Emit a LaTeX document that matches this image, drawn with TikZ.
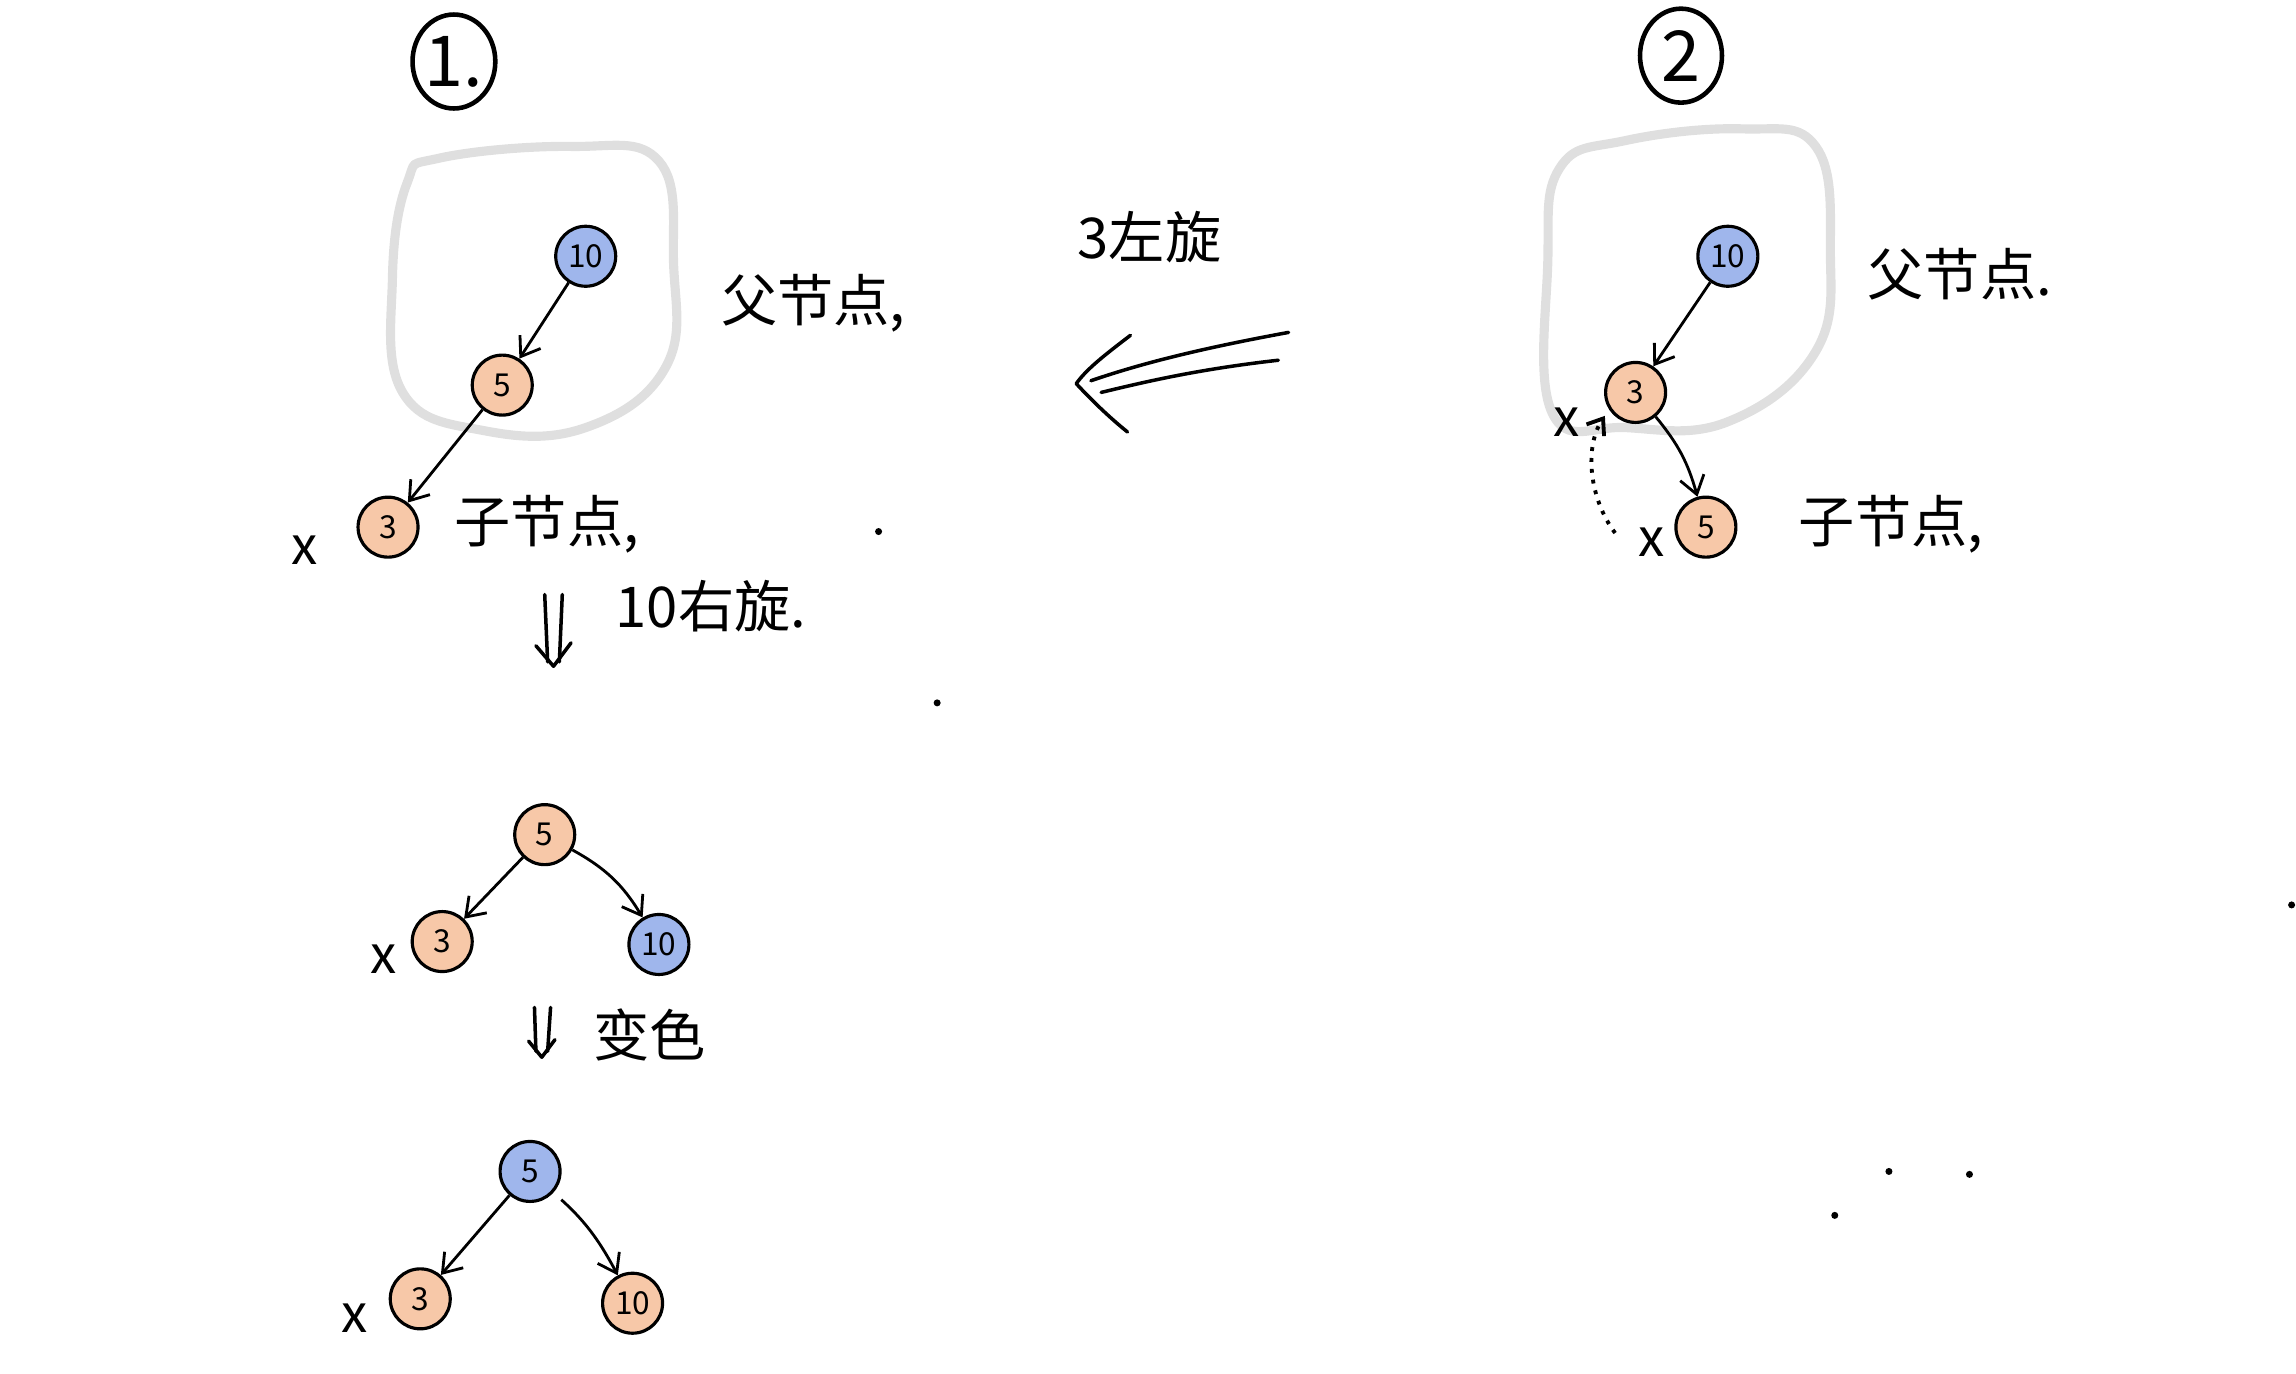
\documentclass[tikz,border=0pt]{standalone}
\usepackage{fontspec}
\newfontfamily\cjk{Noto Sans CJK SC}
\usetikzlibrary{arrows.meta,shapes.geometric}
\definecolor{nblue}{HTML}{9FB6EC}
\definecolor{norange}{HTML}{F7C8A8}
\begin{document}
\begin{tikzpicture}[x=0.014643cm,y=-0.014643cm,
  rb/.style={circle,draw,line width=0.9pt,minimum size=0.6cm,inner sep=0pt,font=\cjk\fontsize{9}{9}\selectfont},
  bluen/.style={rb,fill=nblue},
  orangen/.style={rb,fill=norange},
  lbl/.style={font=\cjk\fontsize{16}{18}\selectfont,inner sep=0pt},
  xl/.style={font=\cjk\fontsize{15}{15}\selectfont,inner sep=0pt},
  numc/.style={ellipse,draw,line width=1.3pt,minimum width=0.82cm,minimum height=0.94cm,inner sep=0pt,font=\cjk\fontsize{20}{20}\selectfont},
  edge/.style={line width=0.8pt,-{Straight Barb[length=5pt,width=7pt]}},
  blob/.style={draw=gray!25,line width=2.6pt},
  hand/.style={line width=1pt,line cap=round,line join=round},
  speck/.style={fill=black,inner sep=0pt,minimum size=2pt,circle}]
\useasboundingbox (0,0) rectangle (1568,938);

% circled step numbers
\node[numc] (c1) at (310,42) {1.};
\node[numc] (c2) at (1148,38) {2};

% gray grouping blobs
\draw[blob] plot[smooth cycle,tension=0.7] coordinates {(300,108) (390,100) (450,110) (460,180) (455,250) (400,292) (330,294) (275,268) (268,190) (278,125)};
\draw[blob] plot[smooth cycle,tension=0.7] coordinates {(1110,96) (1190,88) (1240,100) (1250,170) (1240,240) (1180,288) (1110,292) (1060,282) (1057,180) (1065,115)};

% tree 1 (top left)
\node[bluen] (a10) at (400,175) {10};
\node[orangen] (a5) at (343,263) {5};
\node[orangen] (a3) at (265,360) {3};
\node[xl] (ax) at (208,376) {x};
\draw[edge] (a10) -- (a5);
\draw[edge] (a5) -- (a3);
\node[lbl,anchor=west] (afather) at (492,207) {父节点,};
\node[lbl,anchor=west] (achild) at (310,358) {子节点,};

% down arrow 1
\coordinate (d1b) at (378,455);
\draw[hand] (372,406) -- (374,452);
\draw[hand] (384,406) -- (382,452);
\draw[hand] (d1b) ++(-12,-14) -- (d1b) -- ++(12,-16);
\node[lbl,anchor=west] (rot1) at (420,414) {10右旋.};

% tree 2 (top right)
\node[bluen] (b10) at (1180,175) {10};
\node[orangen] (b3) at (1117,268) {3};
\node[orangen] (b5) at (1165,360) {5};
\node[xl] (bx1) at (1070,288) {x};
\node[xl] (bx2) at (1128,370) {x};
\draw[edge] (b10) -- (b3);
\draw[edge] (b3) to[bend left=12] (b5);
\coordinate (dotS) at (1103,364);
\coordinate (dotE) at (1096,284);
\draw[line width=1.1pt,dotted,-{Straight Barb[length=4pt,width=6pt]}] (dotS) .. controls (1085,340) and (1082,305) .. (dotE);
\node[lbl,anchor=west] (bfather) at (1275,187) {父节点.};
\node[lbl,anchor=west] (bchild) at (1228,358) {子节点,};

% big left arrow between
\node[lbl] (rot2) at (785,162) {3左旋};
\coordinate (tip) at (735,262);
\coordinate (l1) at (880,227);
\coordinate (l2) at (873,246);
\draw[hand] (l1) .. controls (820,238) and (780,248) .. (745,260);
\draw[hand] (l2) .. controls (820,252) and (785,260) .. (752,268);
\draw[hand] (772,229) .. controls (755,242) and (742,252) .. (tip) .. controls (748,276) and (760,287) .. (770,295);

% tree 3 (after rotation)
\node[orangen] (c5) at (372,570) {5};
\node[orangen] (c3) at (302,643) {3};
\node[bluen] (c10) at (450,645) {10};
\node[xl] (cx) at (262,655) {x};
\draw[edge] (c5) -- (c3);
\draw[edge] (c5) to[bend left=15] (c10);

% down arrow 2
\coordinate (d2b) at (370,722);
\draw[hand] (365,688) -- (366,718);
\draw[hand] (376,688) -- (374,718);
\draw[hand] (d2b) ++(-9,-11) -- (d2b) -- ++(9,-12);
\node[lbl,anchor=west] (recolor) at (405,707) {变色};

% tree 4 (after recolour)
\node[bluen] (e5) at (362,800) {5};
\node[orangen] (e3) at (287,887) {3};
\node[orangen] (e10) at (432,890) {10};
\node[xl] (ex) at (242,900) {x};
\draw[edge] (e5) -- (e3);
\draw[edge, shorten <=3pt] (e5) to[bend left=10] (e10);

% stray specks
\node[speck] (s1) at (600,363) {};
\node[speck] (s2) at (640,480) {};
\node[speck] (s3) at (1290,800) {};
\node[speck] (s4) at (1345,802) {};
\node[speck] (s5) at (1253,830) {};
\node[speck] (s6) at (1565,618) {};
\end{tikzpicture}
\end{document}
